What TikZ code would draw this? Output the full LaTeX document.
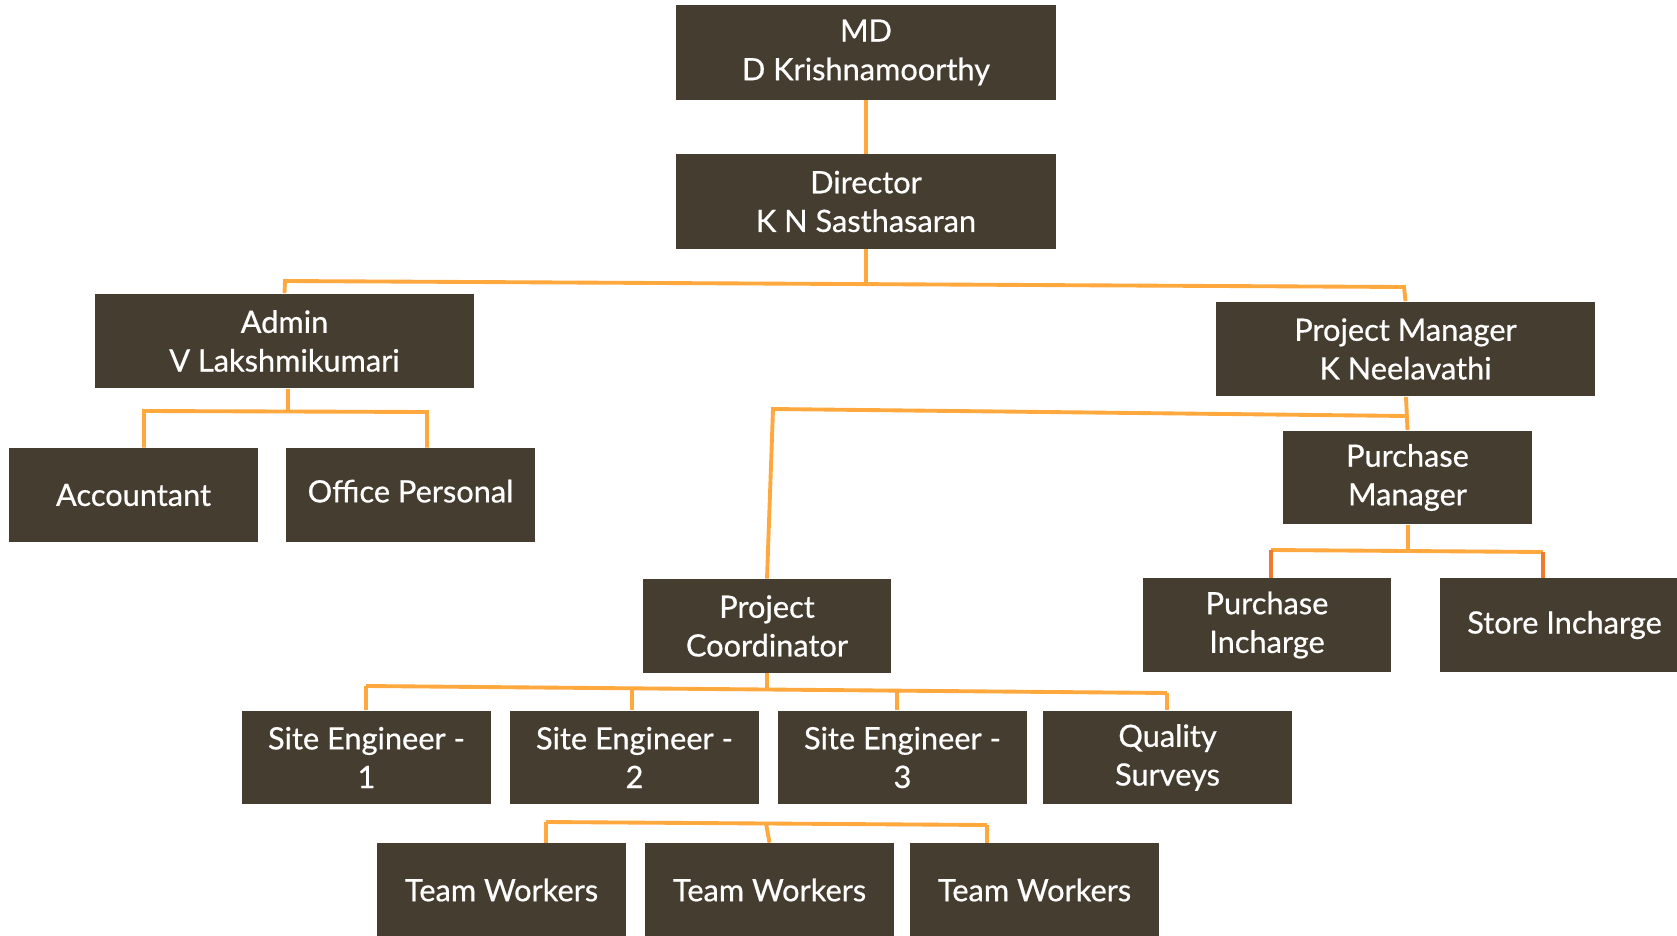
\documentclass[tikz,border=0pt]{standalone}
\usepackage{fontspec}
\setmainfont{Lato}
\newfontfamily\boxfont{Lato}[BoldFont={Lato},BoldFeatures={FakeBold=0.6}]
\usepackage{xcolor}
\definecolor{boxbrown}{HTML}{463D31}
\definecolor{linkorange}{HTML}{FFA83E}
\definecolor{droporange}{HTML}{EF7A2E}

\begin{document}
\begin{tikzpicture}[x=0.02cm,y=-0.02cm,
  wide/.style={fill=boxbrown,text=white,minimum width=7.6cm,minimum height=1.9cm,
    align=center,inner sep=0pt,font=\boxfont\bfseries\fontsize{17.5}{22}\selectfont},
  small/.style={wide,minimum width=4.98cm,minimum height=1.88cm},
  conn/.style={draw=linkorange,line width=2.2pt},
  drop/.style={draw=droporange,line width=2.2pt}]
\useasboundingbox (0,0) rectangle (1677,936);
\clip (0,0) rectangle (1677,936);

% top of the chart
\node[wide] (md) at (866,52.5) {MD\\D Krishnamoorthy};
\node[wide] (dir) at (866,201.5) {Director\\K N Sasthasaran};
\node[wide] (adm) at (284.5,341) {Admin\\V Lakshmikumari};
\node[wide] (pm) at (1405.5,349) {Project Manager\\K Neelavathi};

% admin side
\node[small] (acc) at (133.5,495) {Accountant};
\node[small] (off) at (410.5,495) {\raisebox{4.5pt}{Office Personal}};

% project side
\node[small] (purm) at (1407.5,477.5) {Purchase\\Manager};
\node[small] (pc) at (767,626) {Project\\Coordinator};
\node[small] (pinc) at (1267,625) {Purchase\\Incharge};
\node[small] (sinc) at (1564.5,625) {Store Incharge};

\node[small] (se1) at (366.5,757.5) {Site Engineer -\\1};
\node[small] (se2) at (634.5,757.5) {Site Engineer -\\2};
\node[small] (se3) at (902.5,757.5) {Site Engineer -\\3};
\node[small] (qs) at (1167.5,757.5) {Quality\\Surveys};

\node[small] (tw1) at (501.5,890) {Team Workers};
\node[small] (tw2) at (769.5,890) {Team Workers};
\node[small] (tw3) at (1034.5,890) {Team Workers};

% bar ends
\coordinate (topl) at (285,281);
\coordinate (topm) at (866,284);
\coordinate (topr) at (1404,287);
\coordinate (adml) at (144,411);
\coordinate (admm) at (288,411.5);
\coordinate (admr) at (427,412);
\coordinate (pcbar) at (773,409);
\coordinate (pmbar) at (1406,416);
\coordinate (purl) at (1271,550);
\coordinate (purm2) at (1408,551);
\coordinate (purr) at (1543,552);
\coordinate (sel) at (366,686);
\coordinate (sem) at (767,689);
\coordinate (ser) at (1167,693);
\coordinate (twl) at (546,822);
\coordinate (twm) at (766,823.5);
\coordinate (twr) at (987,825);

\draw[conn] (md) -- (dir);
\draw[conn] (dir.south) -- (topm);
\draw[conn] (adm.north) -- (topl) -- (topr) -- (pm.north);

\draw[conn] (admm |- adm.south) -- (admm);
\draw[conn] (adml |- acc.north) -- (adml) -- (admr) -- (admr |- off.north);

\draw[conn] (pmbar |- pm.south) -- (purm.north);
\draw[conn] (pmbar) -- (pcbar) -- (pc.north);

\draw[conn] (purm2 |- purm.south) -- (purm2);
\draw[conn] (purl) -- (purr);
\draw[drop] (purl) -- (purl |- pinc.north);
\draw[drop] (purr) -- (purr |- sinc.north);

\draw[conn] (pc.south) -- (sem);
\draw[conn] (sel) -- (ser);
\draw[conn] (sel) -- (sel |- se1.north);
\draw[conn] (632,687.5) -- (632,0 |- se2.north);
\draw[conn] (897,690.5) -- (897,0 |- se3.north);
\draw[conn] (ser) -- (ser |- qs.north);

\draw[conn] (twl) -- (twr);
\draw[conn] (twl) -- (twl |- tw1.north);
\draw[conn] (twm) -- (tw2.north);
\draw[conn] (twr) -- (twr |- tw3.north);
\end{tikzpicture}
\end{document}
